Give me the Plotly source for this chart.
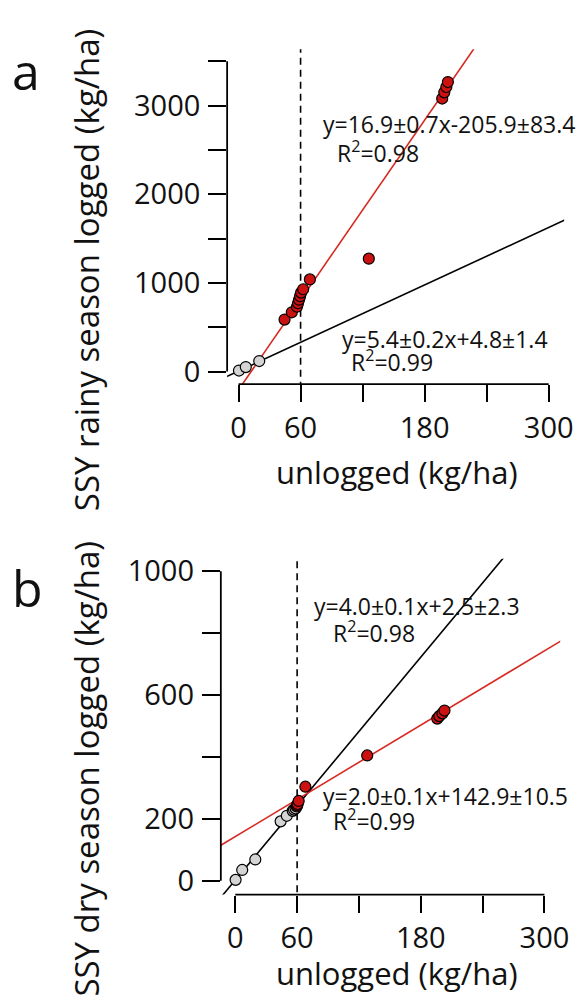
import plotly.graph_objects as go

W, H = 582, 999
FONT = "Open Sans"

# ---------------- data ----------------
# panel a (rainy season)
a_grey_x = [0.4, 7, 20]
a_grey_y = [11, 50, 118]
a_red_x = [44.5, 51.5, 56.5, 57.5, 58.5, 59.5, 60.5, 62.5, 69, 126, 197, 199, 201, 202.5]
a_red_y = [586, 668, 731, 770, 810, 850, 890, 928, 1039, 1273, 3080, 3150, 3210, 3266]
a_fit_red = (16.9, -205.9)
a_fit_black = (5.4, 4.8)

# panel b (dry season)
b_grey_x = [0.3, 6.7, 19.4, 44, 50, 55.7, 57, 58.5]
b_grey_y = [3, 35, 69, 192, 210, 226, 230, 234]
b_red_x = [59.5, 60, 60.5, 61.5, 68, 128, 196, 198, 201, 203]
b_red_y = [240, 244, 248, 258, 304, 405, 524, 532, 541, 550]
b_fit_black = (4.0, 2.5)
b_fit_red = (2.0, 142.9)

threshold_x = 60

x_tickvals = [0, 60, 120, 180, 240, 300]
x_ticktext = ["0", "60", "", "180", "", "300"]
a_y_tickvals = [0, 500, 1000, 1500, 2000, 2500, 3000, 3500]
a_y_ticktext = ["0", "", "1000", "", "2000", "", "3000", ""]
b_y_tickvals = [0, 200, 400, 600, 800, 1000]
b_y_ticktext = ["0", "200", "", "600", "", "1000"]

RED = "#cc1111"
REDLINE = "#d62a22"
GREY = "#d4d4d4"


def px(x):
    return x / W


def py(y):
    return 1 - y / H


fig = go.Figure()

line_x = [-30, 340]


def add_panel(xa, ya, grey_x, grey_y, red_x, red_y, fits, yr):
    for (m, c), col in fits:
        fig.add_trace(go.Scatter(
            x=line_x, y=[m * v + c for v in line_x], mode="lines",
            line=dict(color=col, width=1.6), xaxis=xa, yaxis=ya, showlegend=False))
    fig.add_trace(go.Scatter(
        x=[threshold_x, threshold_x], y=[yr[0] - 1000, yr[1] + 1000], mode="lines",
        line=dict(color="black", width=1.6, dash="7px,5px"),
        xaxis=xa, yaxis=ya, showlegend=False))
    fig.add_trace(go.Scatter(
        x=grey_x, y=grey_y, mode="markers",
        marker=dict(size=11, color=GREY, line=dict(color="black", width=1.2)),
        xaxis=xa, yaxis=ya, showlegend=False, cliponaxis=False))
    fig.add_trace(go.Scatter(
        x=red_x, y=red_y, mode="markers",
        marker=dict(size=11, color=RED, line=dict(color="black", width=1.2)),
        xaxis=xa, yaxis=ya, showlegend=False, cliponaxis=False))


a_yr = [-141.4, 3637]
b_yr = [-44.64, 1040.5]
add_panel("x", "y", a_grey_x, a_grey_y, a_red_x, a_red_y,
          [(a_fit_black, "black"), (a_fit_red, REDLINE)], a_yr)
add_panel("x2", "y2", b_grey_x, b_grey_y, b_red_x, b_red_y,
          [(b_fit_black, "black"), (b_fit_red, REDLINE)], b_yr)

tickfont = dict(family=FONT, size=29, color="#111")
common_x = dict(showgrid=False, zeroline=False, showline=False, ticks="outside",
                ticklen=17, tickwidth=1.6, tickcolor="black",
                tickvals=x_tickvals, ticktext=x_ticktext, tickfont=tickfont,
                ticklabelstandoff=1)
common_y = dict(showgrid=False, zeroline=False, showline=False, ticks="outside",
                ticklen=18, tickwidth=1.6, tickcolor="black", tickfont=tickfont,
                ticklabelstandoff=2)

fig.update_layout(
    width=W, height=H, margin=dict(l=0, r=0, t=0, b=0),
    paper_bgcolor="white", plot_bgcolor="white",
    font=dict(family=FONT, color="#111"),
    xaxis=dict(domain=[px(230.7), px(573)], range=[-11.05, 314.95], anchor="y", **common_x),
    yaxis=dict(domain=[py(381), py(41.7)], range=a_yr, anchor="x",
               tickvals=a_y_tickvals, ticktext=a_y_ticktext, **common_y),
    xaxis2=dict(domain=[px(224.3), px(569)], range=[-14.04, 315.3], anchor="y2", **common_x),
    yaxis2=dict(domain=[py(898.3), py(558)], range=b_yr, anchor="x2",
                tickvals=b_y_tickvals, ticktext=b_y_ticktext, **common_y),
)

# detached axis lines (R style)
for xa, ya, ytop in [("x", "y", 3500), ("x2", "y2", 1000)]:
    fig.add_shape(type="line", xref=xa, yref=ya + " domain", x0=0, x1=300, y0=0, y1=0,
                  line=dict(color="black", width=1.8))
    fig.add_shape(type="line", xref=xa + " domain", yref=ya, x0=0, x1=0, y0=0, y1=ytop,
                  line=dict(color="black", width=1.8))

ann = []


def txt(t, x, y, size, xanchor="left", angle=0):
    ann.append(dict(text=t, x=px(x), y=py(y), xref="paper", yref="paper",
                    xanchor=xanchor, yanchor="middle", showarrow=False, textangle=angle,
                    font=dict(family=FONT, size=size, color="#111")))


txt("a", 10, 64, 50)
txt("b", 10, 588, 50)
txt("y=16.9±0.7x-205.9±83.4", 326, 118, 23)
txt("R<sup>2</sup>=0.98", 340, 146, 23)
txt("y=5.4±0.2x+4.8±1.4", 345, 335, 23)
txt("R<sup>2</sup>=0.99", 354, 358, 23)
txt("y=4.0±0.1x+2.5±2.3", 317, 606, 23)
txt("R<sup>2</sup>=0.98", 336, 632, 23)
txt("y=2.0±0.1x+142.9±10.5", 326, 798, 23)
txt("R<sup>2</sup>=0.99", 336, 823, 23)
txt("unlogged (kg/ha)", 403, 470, 31, xanchor="center")
txt("unlogged (kg/ha)", 403, 978, 31, xanchor="center")
txt("SSY rainy season logged (kg/ha)", 88, 266, 33, xanchor="center", angle=-90)
txt("SSY dry season logged (kg/ha)", 88, 771, 33, xanchor="center", angle=-90)
fig.update_layout(annotations=ann)

fig.write_html("out.html")
